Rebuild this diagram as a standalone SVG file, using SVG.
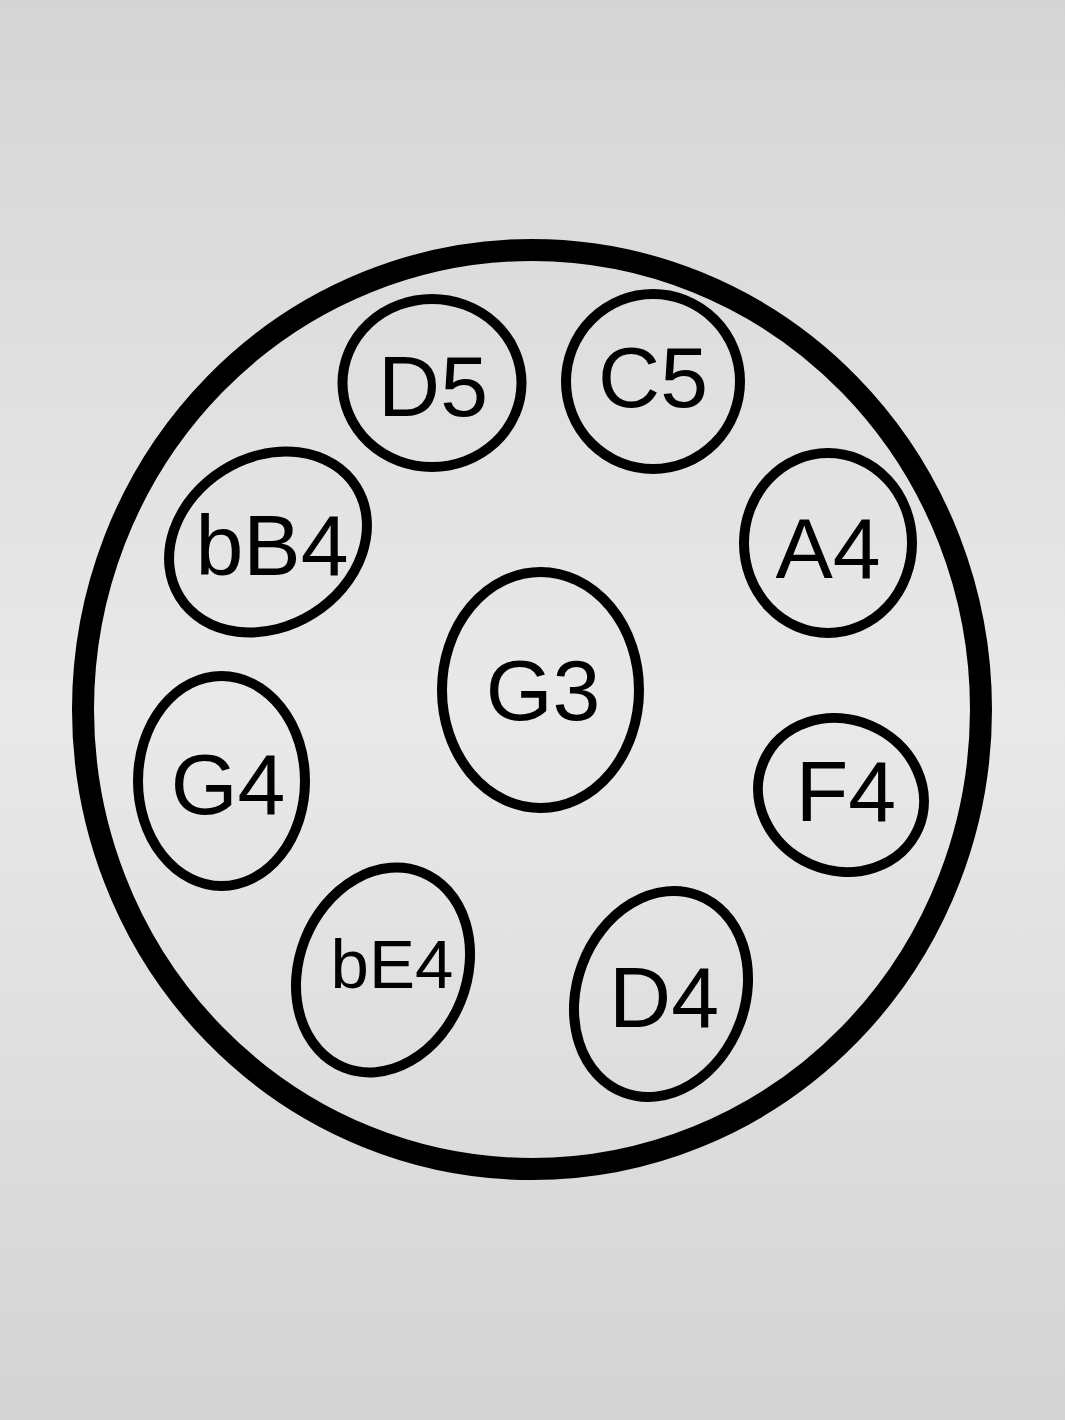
<svg xmlns="http://www.w3.org/2000/svg" width="1065" height="1420" viewBox="0 0 1065 1420">
<defs>
<linearGradient id="bg" x1="0" y1="0" x2="0" y2="1">
<stop offset="0" stop-color="#d5d5d5"/>
<stop offset="0.5" stop-color="#e9e9e9"/>
<stop offset="1" stop-color="#d4d4d4"/>
</linearGradient>
<style>
.rim{fill:none;stroke:#000;stroke-width:22}
.note{fill:none;stroke:#000;stroke-width:10}
.lbl{font-family:"Liberation Sans",Arial,sans-serif;font-size:86px;fill:#000;text-anchor:middle}
</style>
</defs>
<rect x="0" y="0" width="1065" height="1420" fill="url(#bg)"/>
<g id="body"><ellipse class="rim" cx="532" cy="709.5" rx="449" ry="459.5"/></g>
<g id="connectors"></g>
<g id="G3"><ellipse class="note" cx="540.5" cy="690" rx="98.5" ry="118"/><text class="lbl" x="543" y="720">G3</text></g>
<g id="D5"><ellipse class="note" cx="432" cy="383" rx="89.5" ry="84"/><text class="lbl" x="433" y="416">D5</text></g>
<g id="C5"><ellipse class="note" cx="653" cy="381.5" rx="87" ry="87.5"/><text class="lbl" x="653" y="407">C5</text></g>
<g id="bB4"><ellipse class="note" cx="268" cy="542" rx="104" ry="84.6" transform="rotate(-32 268 542)"/><text class="lbl" x="272" y="575">bB4</text></g>
<g id="A4"><ellipse class="note" cx="828" cy="543" rx="84" ry="90"/><text class="lbl" x="828" y="578">A4</text></g>
<g id="G4"><ellipse class="note" cx="221.5" cy="781" rx="83.5" ry="105"/><text class="lbl" x="228" y="814">G4</text></g>
<g id="F4"><ellipse class="note" cx="841" cy="795" rx="84.3" ry="75.5" transform="rotate(23.5 841 795)"/><text class="lbl" x="846" y="821">F4</text></g>
<g id="bE4"><ellipse class="note" cx="383" cy="970" rx="83.8" ry="105.1" transform="rotate(21.7 383 970)"/><text class="lbl" x="392" y="988" style="font-size:69px">bE4</text></g>
<g id="D4"><ellipse class="note" cx="661" cy="994" rx="84.1" ry="105.4" transform="rotate(20.6 661 994)"/><text class="lbl" x="664" y="1027">D4</text></g>
</svg>
